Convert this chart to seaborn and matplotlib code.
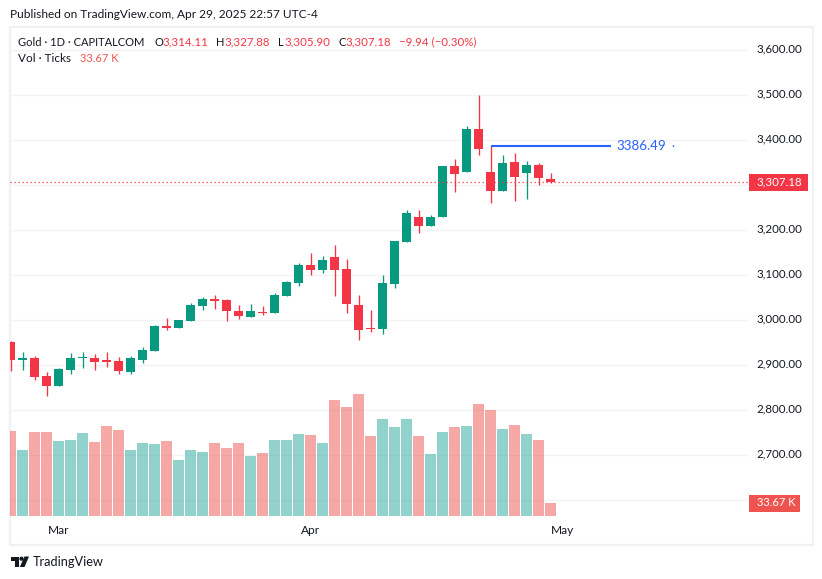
import matplotlib
matplotlib.use("Agg")
import matplotlib.pyplot as plt
import pandas as pd
import seaborn as sns
from matplotlib.patches import Circle, Polygon, Rectangle

# daily candles
opens = [2951.8, 2911.8, 2916.2, 2876.2, 2854.0, 2889.6, 2916.2, 2916.2, 2911.8, 2909.6, 2885.1, 2911.8,
         2931.8, 2987.3, 2982.9, 2998.4, 3031.8, 3047.3, 3045.1, 3020.7, 3007.3, 3018.4, 3016.2, 3054.0,
         3082.9, 3122.9, 3111.8, 3140.7, 3114.0, 3034.0, 2982.9, 2980.7, 3080.7, 3174.0, 3229.6, 3209.5,
         3229.6, 3342.9, 3329.6, 3425.1, 3329.6, 3287.3, 3351.8, 3327.3, 3345.1, 3314.11]
highs = [2954.0, 2929.6, 2920.7, 2885.1, 2894.0, 2927.3, 2929.6, 2925.1, 2929.6, 2918.4, 2920.7, 2940.7,
         2989.6, 3005.1, 3000.7, 3038.4, 3051.8, 3056.2, 3047.3, 3034.0, 3036.2, 3031.8, 3060.7, 3087.3,
         3127.3, 3149.6, 3142.9, 3167.3, 3136.2, 3056.2, 3022.9, 3100.7, 3176.2, 3245.1, 3245.1, 3234.0,
         3342.9, 3358.4, 3431.8, 3500.7, 3386.49, 3367.3, 3371.8, 3354.0, 3349.6, 3327.88]
lows = [2887.3, 2889.6, 2867.3, 2831.8, 2854.0, 2880.7, 2894.0, 2889.6, 2896.2, 2880.7, 2880.7, 2905.1,
        2931.8, 2978.4, 2982.9, 2998.4, 3022.9, 3025.1, 2998.4, 3002.9, 3007.3, 3011.8, 3016.2, 3054.0,
        3076.2, 3100.7, 3105.1, 3054.0, 3016.2, 2956.2, 2974.0, 2969.6, 3071.8, 3174.0, 3194.0, 3209.5,
        3229.6, 3285.1, 3329.6, 3367.3, 3260.7, 3287.3, 3265.1, 3269.6, 3300.7, 3305.90]
closes = [2911.8, 2916.2, 2874.0, 2854.0, 2891.8, 2916.2, 2918.4, 2907.3, 2907.3, 2887.3, 2916.2, 2934.0,
          2987.3, 2982.9, 3000.7, 3034.0, 3047.3, 3042.9, 3020.7, 3009.5, 3020.7, 3016.2, 3056.2, 3085.1,
          3122.9, 3111.8, 3134.0, 3111.8, 3036.2, 2978.4, 2980.7, 3082.9, 3176.2, 3238.4, 3209.5, 3229.6,
          3342.9, 3325.1, 3425.1, 3380.7, 3287.3, 3349.6, 3318.5, 3345.1, 3316.2, 3307.18]
volumes = [220.1, 170.9, 217.6, 217.6, 194.2, 196.8, 215.0, 191.7, 233.1, 222.7, 170.9, 189.1,
           186.5, 194.2, 145.0, 170.9, 165.8, 189.1, 176.1, 189.1, 155.4, 163.2, 196.8, 196.8,
           212.4, 209.8, 189.1, 300.4, 282.3, 316.0, 207.2, 251.2, 230.5, 251.2, 207.2, 160.6,
           217.6, 230.5, 233.1, 290.1, 274.5, 225.3, 235.7, 212.4, 196.8, 33.67]
month_labels = ["Mar", "Apr", "May"]
month_pos = [4, 25, 46]
price_ticks = [3600, 3500, 3400, 3300, 3200, 3100, 3000, 2900, 2800, 2700, 2600]
hidden_ticks = [3300, 2600]  # covered by the two value tags
ray_price = 3386.49
ray_label = "3386.49"
last_close = 3307.18

W, H = 822, 579
X0 = 10.8  # pixel centre of the first candle
UP, DOWN = "#089981", "#F23645"
VOL_UP, VOL_DOWN = "#26A69A", "#EF5350"
INK = "#131722"
GRID = "#F2F3F4"
FONT = "Lato"

sns.set_theme(style="white")
plt.rcParams["font.family"] = [FONT, "DejaVu Sans"]

df = pd.DataFrame({"day": range(len(opens)), "open": opens, "high": highs, "low": lows,
                   "close": closes, "volume": volumes})
df["dir"] = ["up" if c >= o else "down" for o, c in zip(df["open"], df["close"])]

fig = plt.figure(figsize=(W / 100, H / 100), dpi=100, facecolor="white")


def px_axes(x0, y0, x1, y1):
    return fig.add_axes([x0 / W, 1 - y1 / H, (x1 - x0) / W, (y1 - y0) / H])


# overlay in pixel coordinates for frame, header and logo
bg = fig.add_axes([0, 0, 1, 1], zorder=0)
bg.set_xlim(0, W)
bg.set_ylim(H, 0)
bg.axis("off")
bg.add_patch(Rectangle((9.5, 26.5), 803, 518, fill=False, ec="#F0F1F3", lw=1.6))

# price pane, 3000 sits at y=320.3 and 100 points take 45 px
ax = px_axes(10, 27, 748, 516)
ax.set_zorder(1)
ax.patch.set_alpha(0)
ax.set_xlim((10 - X0) / 12, (748 - X0) / 12)
ax.set_ylim(3000 - (516 - 320.3) / 0.45, 3000 + (320.3 - 27) / 0.45)
ax.set_yticks(price_ticks)
ax.set_xticks(month_pos)
ax.set_xticklabels([])
ax.set_yticklabels([])
ax.tick_params(length=0)
ax.grid(True, color=GRID, lw=1.0)
ax.set_axisbelow(True)
sns.despine(ax=ax, left=True, right=True, top=True, bottom=True)

colors = [UP if d == "up" else DOWN for d in df["dir"]]
ax.vlines(df["day"], df["low"], df["high"], colors=colors, lw=0.95, zorder=3)
ax.bar(df["day"], (df["close"] - df["open"]).abs().clip(lower=2.2), bottom=df[["open", "close"]].min(axis=1),
       width=9 / 12, color=colors, zorder=4, lw=0)

ax.axhline(last_close, color=DOWN, lw=0.9, ls=(0, (1, 2.2)), zorder=5)
ax.plot([40, 50], [ray_price, ray_price], color="#2962FF", lw=1.5, solid_capstyle="butt", zorder=6)
ax.text(50.45, ray_price, ray_label, color="#2962FF", fontsize=9.6, va="center", ha="left", zorder=6)
ax.text(55.05, ray_price, "·", color="#2962FF", fontsize=8, va="center", ha="left", zorder=6)

# volume sits on its own scale at the pane bottom
vol = ax.twinx()
vol.set_zorder(2)
vol.patch.set_alpha(0)
sns.barplot(data=df, x="day", y="volume", hue="dir", palette={"up": VOL_UP, "down": VOL_DOWN},
            native_scale=True, dodge=False, width=11 / 12, alpha=0.5, saturation=1, legend=False,
            lw=0, ax=vol)
vol.set_xlim(ax.get_xlim())
vol.set_ylim(0, 489 * 33.67 / 13)
vol.set_xticks([])
vol.set_yticks([])
vol.set_xlabel("")
vol.set_ylabel("")
sns.despine(ax=vol, left=True, right=True, top=True, bottom=True)

# overlay above the panes
top = fig.add_axes([0, 0, 1, 1], zorder=5)
top.set_xlim(0, W)
top.set_ylim(H, 0)
top.axis("off")


def label(x, y, s, color=INK, size=8.3, ha="left", **kw):
    top.text(x, y, s, color=color, fontsize=size, ha=ha, va="center", **kw)


label(10, 15, "Published on TradingView.com, Apr 29, 2025 22:57 UTC-4", size=8.55)

label(18, 42, "Gold · 1D · CAPITALCOM", size=8.0)
for x_head, x_val, head, val in [(154, 162, "O", "3,314.11"), (216, 224, "H", "3,327.88"),
                                 (278, 284, "L", "3,305.90"), (338, 345, "C", "3,307.18")]:
    label(x_head, 42, head, size=8.0)
    label(x_val, 42, val, color=DOWN)
label(399, 42, "−9.94 (−0.30%)", color=DOWN)
label(18, 59, "Vol · Ticks", size=8.5)
label(80, 59, "33.67 K", color=VOL_DOWN, size=8.0)

for p in price_ticks:
    if p not in hidden_ticks:
        label(802, 318.8 + (3000 - p) * 0.45, f"{p:,.2f}", ha="right")

for m, pos in zip(month_labels, month_pos):
    label(X0 + 12 * pos, 530, m, ha="center", size=8.6)

top.add_patch(Rectangle((749, 174), 59, 17, fc=DOWN, ec="none"))
label(802, 181.5, f"{last_close:,.2f}", color="white", ha="right")
top.add_patch(Rectangle((749, 495), 51, 17, fc=VOL_DOWN, ec="none"))
label(795, 502.5, "33.67 K", color="white", size=8.0, ha="right")

# TradingView mark and name
top.add_patch(Polygon([(10.5, 556.5), (19, 556.5), (19, 567), (14.5, 567), (14.5, 560.5), (10.5, 560.5)],
                      fc=INK, ec="none"))
top.add_patch(Circle((21.5, 558.7), 2.1, fc=INK, ec="none"))
top.add_patch(Polygon([(24.5, 556.5), (29, 556.5), (24.5, 567), (19.8, 567)], fc=INK, ec="none"))
label(33, 561.5, "TradingView", size=9.2)

fig.savefig("out.png", dpi=100)
